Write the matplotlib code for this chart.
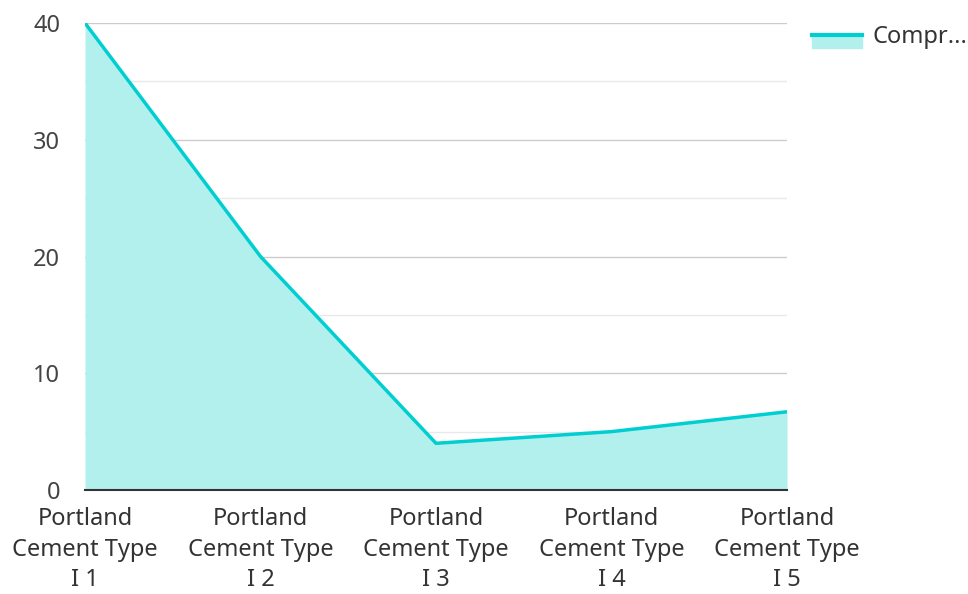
import matplotlib
matplotlib.use('Agg')
import matplotlib.pyplot as plt
from matplotlib.patches import Rectangle
from matplotlib.lines import Line2D
import numpy as np

plt.rcParams['font.family'] = ['Noto Sans', 'DejaVu Sans']

# data
categories = ['Portland\nCement Type\nI 1', 'Portland\nCement Type\nI 2',
              'Portland\nCement Type\nI 3', 'Portland\nCement Type\nI 4',
              'Portland\nCement Type\nI 5']
values = [40, 20, 4.0, 5.0, 6.7]
series_name = 'Compr...'

line_color = '#00CED1'
fill_color = '#B2F0EE'

fig = plt.figure(figsize=(9.68, 5.94), dpi=100)
ax = fig.add_axes([85/968, 1 - 490/594, (787 - 85)/968, (490 - 23)/594])

x = np.arange(len(categories))
ax.fill_between(x, values, 0, color=fill_color, linewidth=0, zorder=2)
ax.plot(x, values, color=line_color, linewidth=2.5, zorder=3)

ax.set_xlim(0, len(categories) - 1)
ax.set_ylim(0, 40)
ax.set_yticks([0, 10, 20, 30, 40])
ax.set_yticks([5, 15, 25, 35], minor=True)
ax.grid(axis='y', which='major', color='#cccccc', linewidth=1, zorder=1)
ax.grid(axis='y', which='minor', color='#e8e8e8', linewidth=1, zorder=1)
ax.set_xticks(x)
ax.set_xticklabels(categories, fontsize=17, color='#333333', linespacing=1.38)
ax.tick_params(axis='y', which='both', length=0, pad=18, labelsize=17, labelcolor='#444444')
ax.tick_params(axis='x', length=0, pad=12)

for s in ['top', 'right', 'left']:
    ax.spines[s].set_visible(False)
ax.spines['bottom'].set_color('#333333')
ax.spines['bottom'].set_linewidth(1.5)
ax.spines['bottom'].set_zorder(4)

# legend drawn by hand, top right
fig.patches.append(Rectangle((812/968, 1 - 48/594), 50/968, 14/594,
                             transform=fig.transFigure, color=fill_color))
fig.lines.append(Line2D([812/968, 862/968], [1 - 35/594, 1 - 35/594],
                        transform=fig.transFigure, color=line_color, linewidth=3))
fig.text(872/968, 1 - 37/594, series_name, fontsize=17, color='#333333', va='center')

fig.savefig('out.png', dpi=100)
